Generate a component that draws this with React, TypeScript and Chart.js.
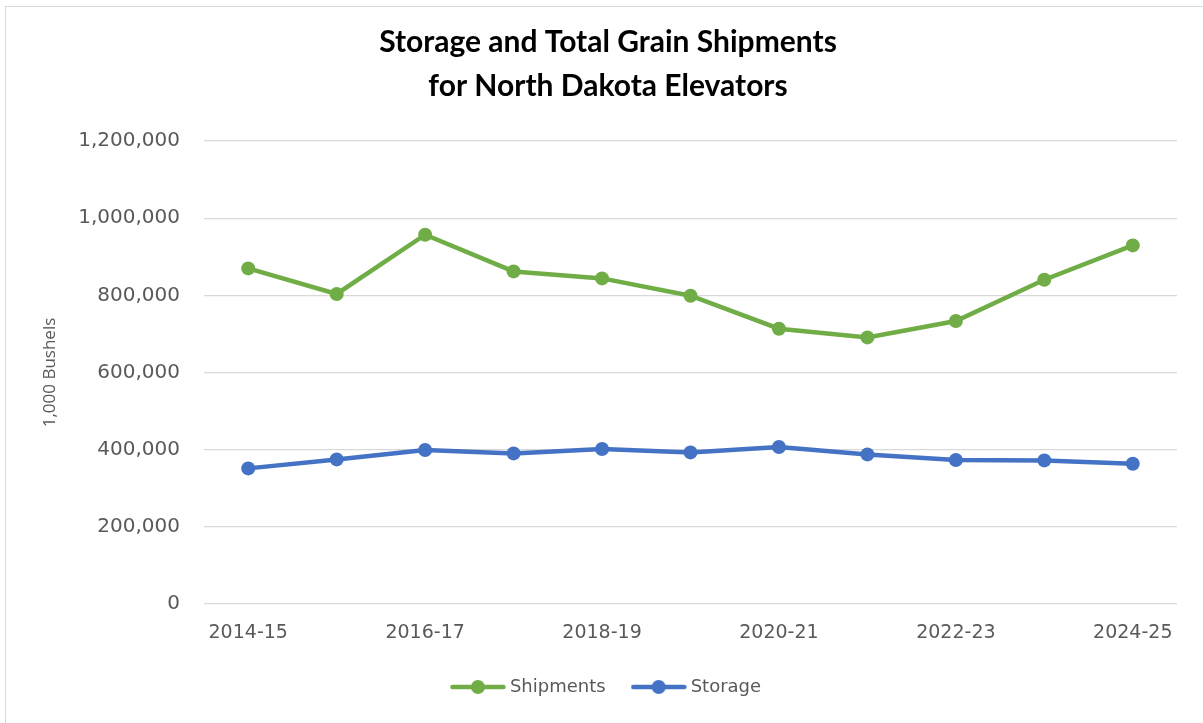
import React, { useEffect, useRef } from "react";
import { Chart, registerables } from "chart.js";

Chart.register(...registerables);

const titleLines = ["Storage and Total Grain Shipments", "for North Dakota Elevators"];
const categories = [
  "2014-15", "2015-16", "2016-17", "2017-18", "2018-19", "2019-20",
  "2020-21", "2021-22", "2022-23", "2023-24", "2024-25",
];
const shipments = [869800, 803500, 957200, 862000, 843900, 799000, 713500, 691000, 733500, 840500, 929400];
const storage = [351500, 374800, 399100, 390300, 401700, 392900, 406900, 387700, 373200, 372200, 363600];
const yTickLabels = ["0", "200,000", "400,000", "600,000", "800,000", "1,000,000", "1,200,000"];
const yAxisTitle = "1,000 Bushels";
const seriesNames = ["Shipments", "Storage"];

const GREEN = "#70ad47";
const BLUE = "#4472c4";
const GRAY_TEXT = "#595959";
const GRID = "#d9d9d9";

function makeLegendIcon(color: string): HTMLCanvasElement {
  const c = document.createElement("canvas");
  c.width = 56;
  c.height = 16;
  const ctx = c.getContext("2d")!;
  ctx.strokeStyle = color;
  ctx.lineWidth = 4.5;
  ctx.lineCap = "round";
  ctx.beginPath();
  ctx.moveTo(2.5, 8);
  ctx.lineTo(53.5, 8);
  ctx.stroke();
  ctx.fillStyle = color;
  ctx.beginPath();
  ctx.arc(28, 8, 7, 0, Math.PI * 2);
  ctx.fill();
  return c;
}

export default function App() {
  const canvasRef = useRef<HTMLCanvasElement | null>(null);

  useEffect(() => {
    if (!canvasRef.current) return;
    const icons = [makeLegendIcon(GREEN), makeLegendIcon(BLUE)];
    const chart = new Chart(canvasRef.current, {
      type: "line",
      data: {
        labels: categories,
        datasets: [
          {
            label: seriesNames[0],
            data: shipments,
            borderColor: GREEN,
            backgroundColor: GREEN,
            borderWidth: 4.5,
            pointRadius: 7,
            pointHoverRadius: 7,
            pointBorderWidth: 0,
            pointBackgroundColor: GREEN,
            tension: 0,
          },
          {
            label: seriesNames[1],
            data: storage,
            borderColor: BLUE,
            backgroundColor: BLUE,
            borderWidth: 4.5,
            pointRadius: 7,
            pointHoverRadius: 7,
            pointBorderWidth: 0,
            pointBackgroundColor: BLUE,
            tension: 0,
          },
        ],
      },
      options: {
        animation: false,
        responsive: false,
        devicePixelRatio: 1,
        layout: { padding: { left: 39, right: 26, top: 0, bottom: 17 } },
        plugins: {
          title: {
            display: true,
            text: titleLines,
            color: "#000000",
            font: { family: "Lato", size: 30, weight: "bold", lineHeight: 1.45 },
            padding: { top: 21, bottom: 33 },
          },
          legend: {
            position: "bottom",
            labels: {
              usePointStyle: true,
              pointStyleWidth: 46,
              padding: 30,
              color: GRAY_TEXT,
              font: { family: "DejaVu Sans", size: 18 },
              generateLabels: (ch: any) =>
                Chart.defaults.plugins.legend.labels
                  .generateLabels(ch)
                  .map((l: any, i: number) => ({ ...l, pointStyle: icons[i] })),
            },
          },
          tooltip: { enabled: false },
        },
        scales: {
          x: {
            offset: true,
            grid: { display: false, drawTicks: false },
            border: { display: false },
            ticks: {
              autoSkip: false,
              maxRotation: 0,
              minRotation: 0,
              padding: 18,
              color: GRAY_TEXT,
              font: { family: "DejaVu Sans", size: 19 },
              callback: (_v: any, i: number) => (i % 2 === 0 ? categories[i] : ""),
            },
            afterFit: (scale: any) => {
              scale.height = 44;
            },
          },
          y: {
            min: 0,
            max: 1200000,
            grid: { color: GRID, lineWidth: 1.3, drawTicks: false },
            border: { display: false },
            ticks: {
              stepSize: 200000,
              padding: 24,
              color: GRAY_TEXT,
              font: { family: "DejaVu Sans", size: 20 },
              callback: (_v: any, i: number) => yTickLabels[i],
            },
            title: {
              display: true,
              text: yAxisTitle,
              color: GRAY_TEXT,
              font: { family: "Open Sans", size: 17 },
              padding: { top: 1, bottom: 0 },
            },
            afterFit: (scale: any) => {
              scale.width = 165;
            },
          },
        },
      },
    });
    return () => chart.destroy();
  }, []);

  return (
    <div
      style={{
        position: "fixed",
        left: 0,
        top: 0,
        width: 1203,
        height: 723,
        overflow: "hidden",
        background: "#ffffff",
      }}
    >
      <div
        style={{
          position: "absolute",
          left: 5,
          top: 6,
          right: -10,
          bottom: -10,
          borderLeft: `1px solid ${GRID}`,
          borderTop: `1px solid ${GRID}`,
        }}
      />
      <canvas
        ref={canvasRef}
        width={1203}
        height={723}
        style={{ position: "absolute", left: 0, top: 0, width: 1203, height: 723 }}
      />
    </div>
  );
}
